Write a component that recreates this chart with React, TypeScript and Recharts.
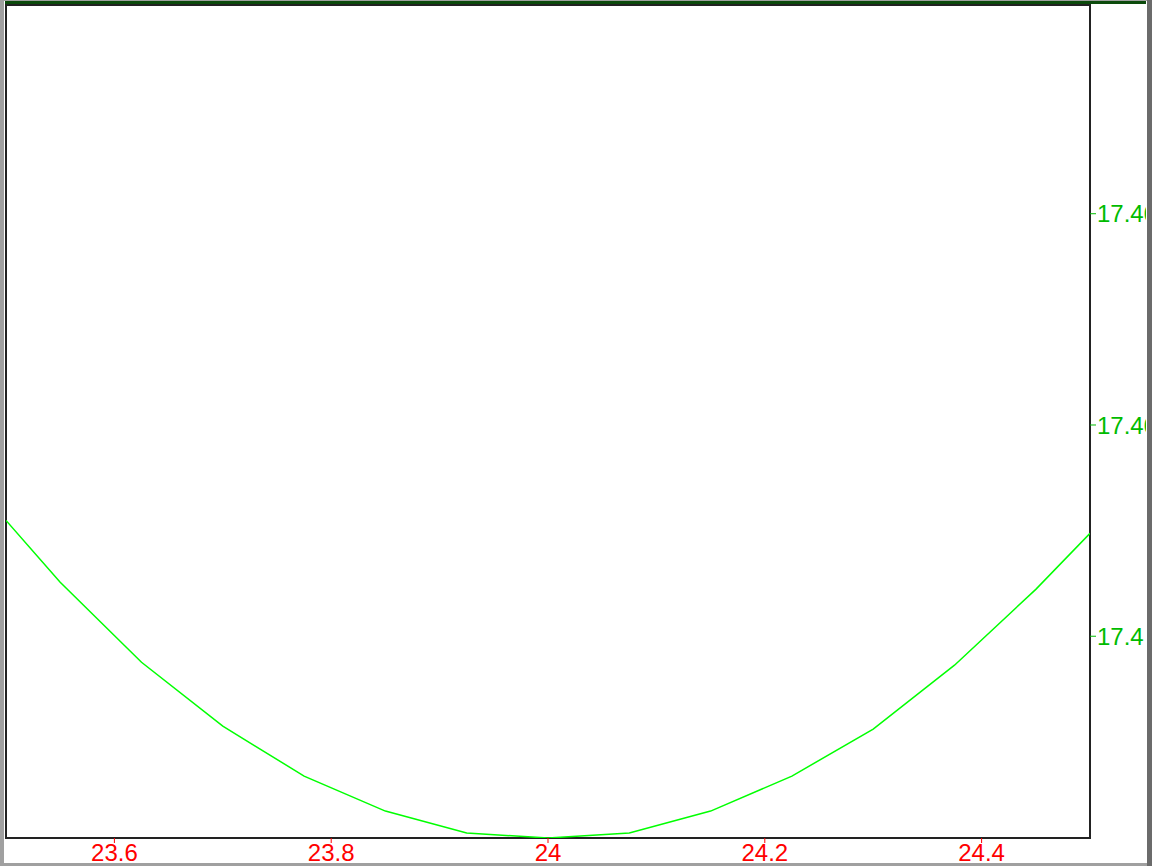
import { LineChart, Line, XAxis, YAxis, ReferenceArea } from "recharts";

const xValues = [23.5, 23.55, 23.625, 23.7, 23.775, 23.85, 23.925, 24.0, 24.075, 24.15, 24.225, 24.3, 24.375, 24.45, 24.5];
const yValues = [
  17.401097, 17.400511, 17.399754, 17.399149, 17.398676, 17.398345, 17.398137, 17.39809,
  17.398137, 17.398345, 17.398676, 17.399121, 17.399726, 17.400444, 17.400974,
];
const xTicks = [23.6, 23.8, 24, 24.2, 24.4];
const yTicks = [17.4, 17.402, 17.404];
const xDomain = [23.5, 24.5];
const yDomain = [17.39809, 17.405976];

const data = xValues.map((x, i) => ({ x, y: yValues[i] }));

const font = "'Liberation Sans', Arial, sans-serif";

export default function App() {
  return (
    <div style={{ position: "relative", width: 1152, height: 866, background: "#fff", overflow: "hidden" }}>
      <style>{"body{margin:0}"}</style>
      {/* window frame */}
      <div style={{ position: "absolute", left: 0, top: 0, width: 4, height: 866, background: "#a0a0a0" }} />
      <div style={{ position: "absolute", left: 0, top: 0, width: 1152, height: 1, background: "#a0a0a0" }} />
      <div style={{ position: "absolute", left: 0, top: 863, width: 1152, height: 3, background: "#a0a0a0" }} />
      <div style={{ position: "absolute", left: 5, top: 1, width: 1141, height: 3, background: "#0b4a0b" }} />
      <div style={{ position: "absolute", left: 4, top: 4, width: 1142, height: 859, overflow: "hidden" }}>
        <LineChart width={1142} height={862} data={data} margin={{ top: 1, right: 0, bottom: 0, left: 2 }}>
          <XAxis
            dataKey="x"
            type="number"
            domain={xDomain}
            ticks={xTicks}
            allowDataOverflow
            height={28}
            axisLine={false}
            tickLine={{ stroke: "#ff0000" }}
            tickSize={5}
            tickMargin={1}
            tick={{ fill: "#ff0000", fontSize: 24, fontFamily: font }}
          />
          <YAxis
            orientation="right"
            type="number"
            domain={yDomain}
            ticks={yTicks}
            allowDataOverflow
            width={56}
            axisLine={false}
            tickLine={{ stroke: "#00bb00" }}
            tickSize={6}
            tickMargin={1}
            tick={{ fill: "#00bb00", fontSize: 24, fontFamily: font, textAnchor: "start" }}
            tickFormatter={(v: number) => String(v)}
          />
          <ReferenceArea
            x1={xDomain[0]}
            x2={xDomain[1]}
            y1={yDomain[0]}
            y2={yDomain[1]}
            fill="none"
            fillOpacity={0}
            stroke="#222"
            strokeWidth={2}
            ifOverflow="visible"
          />
          <Line type="linear" dataKey="y" stroke="#00ff00" strokeWidth={1.5} dot={false} isAnimationActive={false} />
        </LineChart>
      </div>
      <div style={{ position: "absolute", left: 1147, top: 0, width: 5, height: 866, background: "#6b6b6b" }} />
    </div>
  );
}
